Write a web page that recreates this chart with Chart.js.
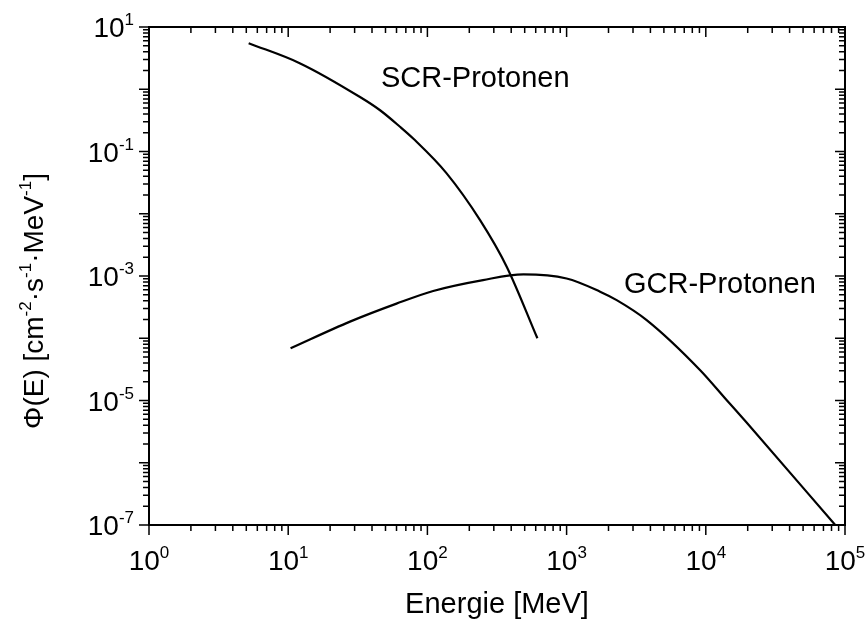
<!DOCTYPE html>
<html>
<head>
<meta charset="utf-8">
<script src="https://cdn.jsdelivr.net/npm/chart.js@4/dist/chart.umd.min.js"></script>
<style>
  html, body { margin: 0; padding: 0; background: #fff; }
  #wrap { width: 868px; height: 626px; }
</style>
</head>
<body>
<div id="wrap"><canvas id="chart" width="868" height="626"></canvas></div>
<script>
// ── Data ─────────────────────────────────────────────────────────
const scrEnergy = [5.2, 12.2, 32.8, 45.7, 63.5, 79.4, 137, 239, 372, 617];
const scrFlux   = [5.5, 2.6, 0.75, 0.46, 0.25, 0.16, 0.045, 0.0079, 0.0014, 0.0001];

const gcrEnergy = [10.4, 27.8, 60, 110, 251, 490, 1000, 1740, 2290, 3760, 9080, 14100, 19500, 85100];
const gcrFlux   = [6.9e-5, 1.85e-4, 3.6e-4, 5.75e-4, 8.6e-4, 1.06e-3, 9.1e-4, 5.6e-4, 4.1e-4, 1.96e-4, 3.1e-5, 1.02e-5, 4.5e-6, 1e-7];

const xDecades = [0, 1, 2, 3, 4, 5];
const yDecades = [-7, -6, -5, -4, -3, -2, -1, 0, 1];
const yLabelExp = [1, -1, -3, -5, -7];

const seriesLabels = ['SCR-Protonen', 'GCR-Protonen'];
const labelAnchors = [[46.4, 1.09], [2584, 5.33e-4]];

const FONT = "'Liberation Sans', Arial, sans-serif";


// ── Helpers ──────────────────────────────────────────────────────
function toPoints(xs, ys) {
  return xs.map((x, i) => ({ x, y: ys[i] }));
}

// text made of parts like ['10', {sup: '-3'}]
function partsWidth(ctx, parts, size, supSize) {
  let w = 0;
  parts.forEach(p => {
    ctx.font = (typeof p === 'string' ? size : supSize) + 'px ' + FONT;
    w += ctx.measureText(typeof p === 'string' ? p : p.sup).width;
  });
  return w;
}

function drawParts(ctx, parts, x, y, size, supSize, supRise) {
  parts.forEach(p => {
    const sup = typeof p !== 'string';
    const t = sup ? p.sup : p;
    ctx.font = (sup ? supSize : size) + 'px ' + FONT;
    ctx.fillText(t, x, sup ? y - supRise : y);
    x += ctx.measureText(t).width;
  });
}


// ── Frame, ticks and texts ───────────────────────────────────────
const framePlugin = {
  id: 'frame',
  afterDraw(chart) {
    const { ctx, chartArea: a, scales } = chart;
    const xs = scales.x, ys = scales.y;

    ctx.save();
    ctx.strokeStyle = '#000';
    ctx.fillStyle = '#000';
    ctx.lineWidth = 2;
    ctx.strokeRect(a.left, a.top, a.right - a.left, a.bottom - a.top);

    ctx.lineWidth = 1.5;
    ctx.beginPath();
    // x ticks: pointing down on both bottom and top axis
    xDecades.forEach(d => {
      for (let k = 1; k <= 9; k++) {
        if (k > 1 && d === xDecades[xDecades.length - 1]) break;
        const px = xs.getPixelForValue(k * Math.pow(10, d));
        const len = k === 1 ? 10 : 6;
        ctx.moveTo(px, a.bottom); ctx.lineTo(px, a.bottom + len);
        ctx.moveTo(px, a.top); ctx.lineTo(px, a.top + len);
      }
    });
    // y ticks: pointing left on both left and right axis
    yDecades.forEach(d => {
      for (let k = 1; k <= 9; k++) {
        if (k > 1 && d === yDecades[yDecades.length - 1]) break;
        const py = ys.getPixelForValue(k * Math.pow(10, d));
        const len = k === 1 ? 10 : 6;
        ctx.moveTo(a.left, py); ctx.lineTo(a.left - len, py);
        ctx.moveTo(a.right, py); ctx.lineTo(a.right - len, py);
      }
    });
    ctx.stroke();

    ctx.textBaseline = 'alphabetic';
    ctx.textAlign = 'left';

    // x tick labels
    xDecades.forEach(d => {
      const parts = ['10', { sup: String(d) }];
      const w = partsWidth(ctx, parts, 28, 17);
      const px = xs.getPixelForValue(Math.pow(10, d));
      drawParts(ctx, parts, px - w / 2, a.bottom + 45, 28, 17, 12);
    });

    // y tick labels
    yLabelExp.forEach(e => {
      const parts = ['10', { sup: String(e) }];
      const w = partsWidth(ctx, parts, 28, 17);
      const py = ys.getPixelForValue(Math.pow(10, e));
      drawParts(ctx, parts, 134 - w, py + 10, 28, 17, 12);
    });

    // axis titles
    ctx.font = '29px ' + FONT;
    ctx.textAlign = 'center';
    ctx.fillText('Energie [MeV]', (a.left + a.right) / 2, 613);

    const yParts = ['\u03A6(E) [cm', { sup: '-2' }, '\u00B7s', { sup: '-1' }, '\u00B7MeV', { sup: '-1' }, ']'];
    ctx.textAlign = 'left';
    const tw = partsWidth(ctx, yParts, 28, 17);
    ctx.translate(43, 301);
    ctx.rotate(-Math.PI / 2);
    drawParts(ctx, yParts, -tw / 2, 0, 28, 17, 12);
    ctx.setTransform(1, 0, 0, 1, 0, 0);

    // curve labels
    ctx.font = '29px ' + FONT;
    seriesLabels.forEach((t, i) => {
      const [ex, fy] = labelAnchors[i];
      ctx.fillText(t, xs.getPixelForValue(ex), ys.getPixelForValue(fy));
    });

    ctx.restore();
  }
};


// ── Chart ────────────────────────────────────────────────────────
const lineStyle = {
  showLine: true,
  borderColor: '#000',
  borderWidth: 2.2,
  pointRadius: 0,
  cubicInterpolationMode: 'monotone',
  fill: false
};

new Chart(document.getElementById('chart'), {
  type: 'scatter',
  data: {
    datasets: [
      { label: seriesLabels[0], data: toPoints(scrEnergy, scrFlux), ...lineStyle },
      { label: seriesLabels[1], data: toPoints(gcrEnergy, gcrFlux), ...lineStyle }
    ]
  },
  options: {
    responsive: false,
    animation: false,
    layout: { padding: { left: 149, right: 23, top: 27, bottom: 101 } },
    plugins: {
      legend: { display: false },
      tooltip: { enabled: false }
    },
    scales: {
      x: { type: 'logarithmic', min: 1, max: 1e5, display: false },
      y: { type: 'logarithmic', min: 1e-7, max: 10, display: false }
    }
  },
  plugins: [framePlugin]
});
</script>
</body>
</html>
